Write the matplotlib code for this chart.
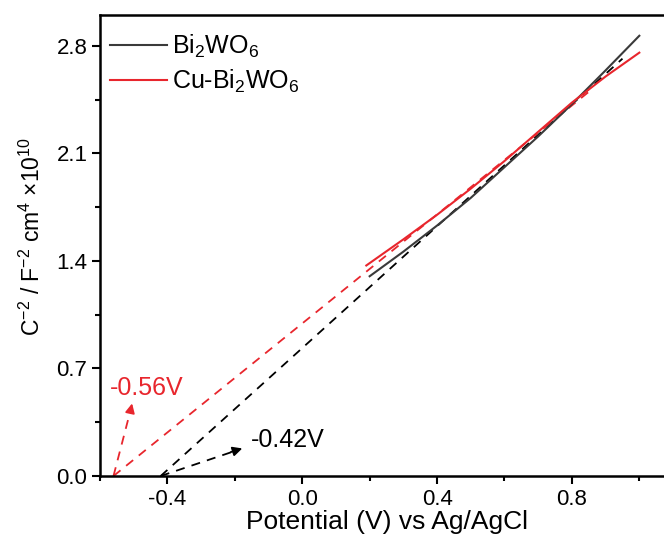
import matplotlib
matplotlib.use("Agg")
import matplotlib.pyplot as plt
from matplotlib.ticker import MultipleLocator

plt.rcParams['font.family'] = ['Liberation Sans', 'DejaVu Sans']
plt.rcParams['mathtext.default'] = 'regular'
plt.rcParams['axes.unicode_minus'] = False

# Mott-Schottky data (C^-2, x1e10)
xBi = [0.2, 0.3, 0.4, 0.5, 0.6, 0.7, 0.8, 0.9, 1.0]
yBi = [1.30, 1.46, 1.63, 1.81, 2.01, 2.21, 2.42, 2.64, 2.865]
xCu = [0.19, 0.3, 0.4, 0.5, 0.6, 0.7, 0.8, 0.9, 1.0]
yCu = [1.37, 1.54, 1.70, 1.87, 2.05, 2.24, 2.43, 2.60, 2.755]

# linear fits (extrapolated to the x-axis)
fitBiX = [-0.42, 0.95]
fitBiY = [0.0, 2.716]
fitCuX = [-0.56, 0.85]
fitCuY = [0.0, 2.50]

# flat band potential labels
fbBi = -0.42
fbCu = -0.56

black = '#3a3a3a'
red = '#e8262d'

fig = plt.figure(figsize=(6.64, 5.4), dpi=100)
ax = fig.add_axes([0.1506, 0.1185, 0.863, 0.8537])

ax.plot(fitBiX, fitBiY, color='black', lw=1.3, ls=(0, (5, 4)))
ax.plot(fitCuX, fitCuY, color=red, lw=1.3, ls=(0, (5, 4)))
ax.plot(xBi, yBi, color=black, lw=1.5, label='Bi$_2$WO$_6$')
ax.plot(xCu, yCu, color=red, lw=1.5, label='Cu-Bi$_2$WO$_6$')

# dashed arrows to the intercept labels
ax.plot([fbCu, -0.508], [0.0, 0.44], color=red, lw=1.3, ls=(0, (5, 4)))
ax.annotate('', xy=(-0.503, 0.49), xytext=(-0.512, 0.40),
            arrowprops=dict(arrowstyle='-|>', color=red, lw=1.3, mutation_scale=14))
ax.text(-0.572, 0.57, f'{fbCu:.2f}V', color=red, fontsize=18, va='center', ha='left')

ax.plot([fbBi, -0.19], [0.0, 0.17], color='black', lw=1.3, ls=(0, (5, 4)))
ax.annotate('', xy=(-0.17, 0.185), xytext=(-0.22, 0.15),
            arrowprops=dict(arrowstyle='-|>', color='black', lw=1.3, mutation_scale=14))
ax.text(-0.152, 0.235, f'{fbBi:.2f}V', color='black', fontsize=18, va='center', ha='left')

ax.set_xlim(-0.6, 1.1)
ax.set_ylim(0, 3.0)
ax.xaxis.set_major_locator(MultipleLocator(0.4))
ax.xaxis.set_minor_locator(MultipleLocator(0.2))
ax.yaxis.set_major_locator(MultipleLocator(0.7))
ax.yaxis.set_minor_locator(MultipleLocator(0.35))
ax.tick_params(which='major', direction='out', length=6, width=1.5, labelsize=16, pad=3)
ax.tick_params(which='minor', direction='out', length=3.5, width=1.5)
for s in ax.spines.values():
    s.set_linewidth(1.8)
ax.spines['right'].set_visible(False)

ax.set_xlabel('Potential (V) vs Ag/AgCl', fontsize=19, labelpad=0)
ax.set_ylabel('C$^{-2}$ / F$^{-2}$ cm$^{4}$ $\\times$10$^{10}$', fontsize=16.5)
ax.yaxis.set_label_coords(-0.097, 0.52)

ax.legend(loc='upper left', frameon=False, fontsize=18, handlelength=2.3,
          handletextpad=0.2, labelspacing=0.3, borderpad=0, borderaxespad=0,
          bbox_to_anchor=(0.017, 0.961))

fig.savefig('out.png', dpi=100)
